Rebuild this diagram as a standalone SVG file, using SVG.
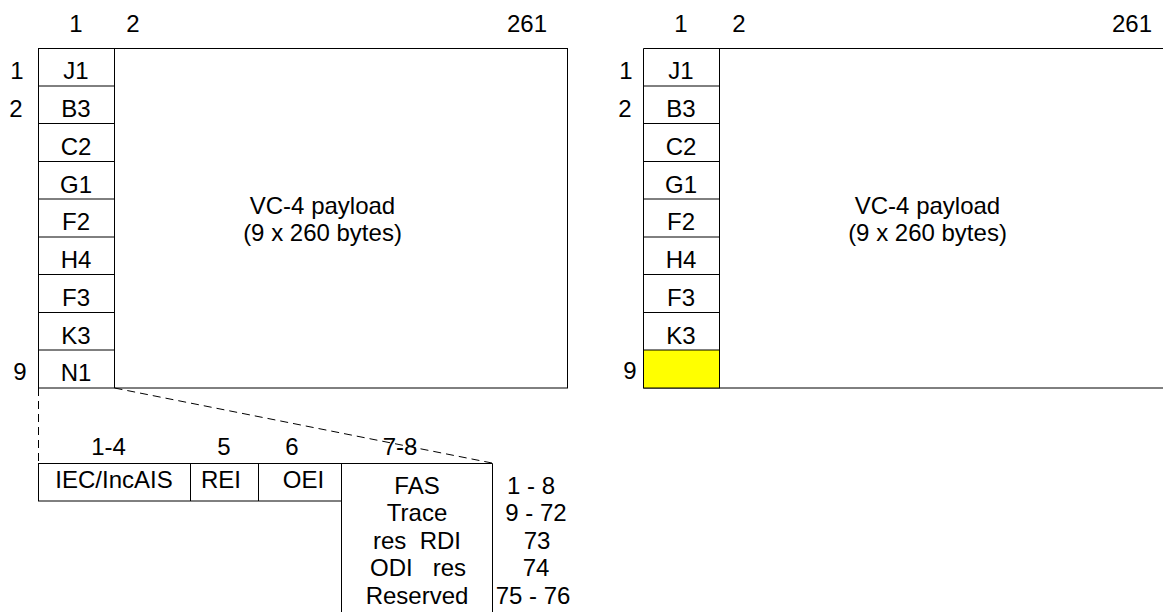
<svg xmlns="http://www.w3.org/2000/svg" width="1163" height="612" viewBox="0 0 1163 612">
<style>
text{font-family:"Liberation Sans",Arial,sans-serif;font-size:24px;fill:#000}
.m{text-anchor:middle}
.pre{white-space:pre}
.ln{stroke:#000;stroke-width:1;fill:none}
.cell{stroke:#000;stroke-width:1;fill:#fff}
.dash{stroke:#000;stroke-width:1;fill:none;stroke-dasharray:8,5}
</style>
<rect width="1163" height="612" fill="#fff"/>

<g id="left-frame">
<text x="76" y="32" class="m">1</text>
<text x="133" y="32" class="m">2</text>
<text x="527" y="32" class="m">261</text>
<text x="17" y="79" class="m">1</text>
<text x="16" y="117" class="m">2</text>
<text x="20" y="380" class="m">9</text>
<rect x="38.5" y="48.5" width="529" height="339.5" class="ln"/>
<line x1="114.5" y1="48.5" x2="114.5" y2="388" class="ln"/>
<g class="ln">
<line x1="38.5" y1="86" x2="114.5" y2="86"/>
<line x1="38.5" y1="123.5" x2="114.5" y2="123.5"/>
<line x1="38.5" y1="161.5" x2="114.5" y2="161.5"/>
<line x1="38.5" y1="199" x2="114.5" y2="199"/>
<line x1="38.5" y1="237" x2="114.5" y2="237"/>
<line x1="38.5" y1="274.5" x2="114.5" y2="274.5"/>
<line x1="38.5" y1="312.5" x2="114.5" y2="312.5"/>
<line x1="38.5" y1="350" x2="114.5" y2="350"/>
</g>
<text x="76" y="79" class="m">J1</text>
<text x="76" y="117" class="m">B3</text>
<text x="76" y="155" class="m">C2</text>
<text x="76" y="193" class="m">G1</text>
<text x="76" y="230" class="m">F2</text>
<text x="76" y="268" class="m">H4</text>
<text x="76" y="306" class="m">F3</text>
<text x="76" y="344" class="m">K3</text>
<text x="76" y="381" class="m">N1</text>
<text x="322.5" y="213.5" class="m">VC-4 payload</text>
<text x="322.5" y="241" class="m">(9 x 260 bytes)</text>
</g>

<g id="right-frame">
<text x="681" y="32" class="m">1</text>
<text x="739" y="32" class="m">2</text>
<text x="1132" y="32" class="m">261</text>
<text x="626" y="79" class="m">1</text>
<text x="625" y="117" class="m">2</text>
<text x="630" y="379" class="m">9</text>
<line x1="643.5" y1="48.5" x2="1163" y2="48.5" class="ln"/>
<line x1="643.5" y1="388" x2="1163" y2="388" class="ln"/>
<rect x="643.5" y="350" width="76" height="38" fill="#ffff00" stroke="#000"/>
<line x1="643.5" y1="48.5" x2="643.5" y2="388" class="ln"/>
<line x1="719.5" y1="48.5" x2="719.5" y2="388" class="ln"/>
<g class="ln">
<line x1="643.5" y1="86" x2="719.5" y2="86"/>
<line x1="643.5" y1="123.5" x2="719.5" y2="123.5"/>
<line x1="643.5" y1="161.5" x2="719.5" y2="161.5"/>
<line x1="643.5" y1="199" x2="719.5" y2="199"/>
<line x1="643.5" y1="237" x2="719.5" y2="237"/>
<line x1="643.5" y1="274.5" x2="719.5" y2="274.5"/>
<line x1="643.5" y1="312.5" x2="719.5" y2="312.5"/>
</g>
<text x="681" y="79" class="m">J1</text>
<text x="681" y="117" class="m">B3</text>
<text x="681" y="155" class="m">C2</text>
<text x="681" y="193" class="m">G1</text>
<text x="681" y="230" class="m">F2</text>
<text x="681" y="268" class="m">H4</text>
<text x="681" y="306" class="m">F3</text>
<text x="681" y="344" class="m">K3</text>
<text x="927.5" y="213.5" class="m">VC-4 payload</text>
<text x="927.5" y="241" class="m">(9 x 260 bytes)</text>
</g>

<g id="connectors">
<line x1="38.5" y1="388" x2="38.5" y2="463" class="dash"/>
<line x1="114.5" y1="388" x2="492" y2="463" class="dash"/>
</g>

<g id="n1-detail">
<text x="108.5" y="455" class="m">1-4</text>
<text x="224" y="455" class="m">5</text>
<text x="292" y="455" class="m">6</text>
<text x="400" y="455" class="m">7-8</text>
<rect x="38.5" y="463.5" width="303" height="37.5" class="cell"/>
<line x1="190.5" y1="463.5" x2="190.5" y2="501" class="ln"/>
<line x1="258.5" y1="463.5" x2="258.5" y2="501" class="ln"/>
<path d="M341.5 613 V463.5 H492.5 V613" class="ln"/>
<text x="114" y="488" class="m">IEC/IncAIS</text>
<text x="221" y="488" class="m">REI</text>
<text x="303.5" y="488" class="m">OEI</text>
<text x="417" y="493.5" class="m">FAS</text>
<text x="417" y="521" class="m">Trace</text>
<text x="417" y="548.5" class="m pre" xml:space="preserve">res  RDI</text>
<text x="418" y="576" class="m pre" xml:space="preserve">ODI   res</text>
<text x="417" y="604" class="m">Reserved</text>
<text x="531" y="493.5" class="m pre" xml:space="preserve">1 - 8</text>
<text x="536" y="521" class="m pre" xml:space="preserve">9 - 72</text>
<text x="537" y="548.5" class="m">73</text>
<text x="536" y="576" class="m">74</text>
<text x="533" y="604" class="m pre" xml:space="preserve">75 - 76</text>
</g>
</svg>
